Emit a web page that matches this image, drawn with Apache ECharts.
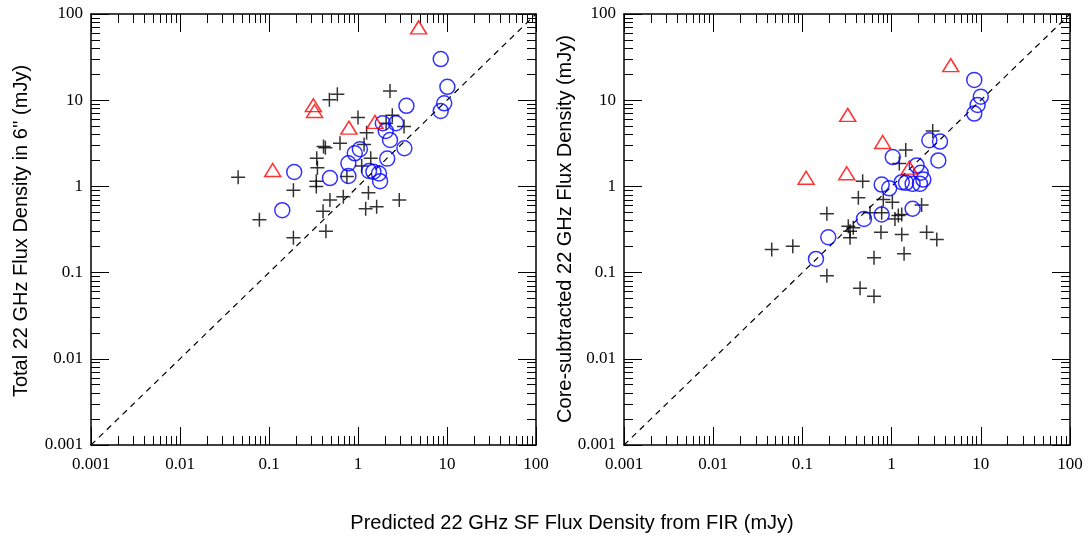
<!DOCTYPE html>
<html><head><meta charset="utf-8">
<script src="https://cdn.jsdelivr.net/npm/echarts@6/dist/echarts.min.js"></script>
<style>html,body{margin:0;padding:0;background:#fff}#c{width:1089px;height:542px}</style>
</head><body><div id="c"></div>
<script>
// Left panel: Total 22 GHz flux in 6''
const leftCircles = [[8.5,30],[10.1,14.3],[9.3,9.2],[8.5,7.5],[3.5,8.6],[1.9,5.4],[2.67,5.4],[2.05,4.4],[2.29,3.45],[3.32,2.77],[2.13,2.1],[1.05,2.7],[0.92,2.42],[0.78,1.85],[0.78,1.32],[0.484,1.25],[0.192,1.47],[0.141,0.53],[1.33,1.51],[1.49,1.48],[1.72,1.41],[1.77,1.15]];
const leftTriangles = [[4.8,70],[0.315,8.75],[0.325,7.5],[0.79,4.8],[1.55,5.6],[0.11,1.55]];
const leftCrosses = [[0.586,11.7],[0.477,10.1],[2.29,12.8],[1.0,6.3],[2.43,6.7],[3.29,4.94],[2.07,5.4],[1.25,4.2],[1.17,3.07],[0.628,3.16],[0.41,2.9],[0.43,2.8],[0.344,2.12],[0.35,1.65],[0.34,1.15],[0.34,1.0],[0.188,0.9],[0.045,1.28],[0.078,0.41],[0.188,0.253],[0.436,0.302],[0.405,0.516],[0.484,0.694],[0.684,0.76],[0.75,1.3],[1.31,0.845],[1.22,0.55],[1.62,0.58],[2.91,0.694],[1.39,2.12],[1.1,1.72]];
// Right panel: core-subtracted 22 GHz flux
const rightCircles = [[8.45,17.2],[10.0,11.0],[9.2,8.8],[8.45,7.0],[2.65,3.43],[3.49,3.31],[3.34,2.0],[1.03,2.19],[1.91,1.75],[2.12,1.44],[2.27,1.2],[2.08,1.07],[1.72,1.07],[1.45,1.1],[1.30,1.12],[0.774,1.05],[0.94,0.95],[1.72,0.55],[0.774,0.472],[0.49,0.42],[0.195,0.257],[0.142,0.144]];
const rightTriangles = [[4.6,25.5],[0.322,6.75],[0.794,3.27],[0.314,1.42],[0.11,1.26],[1.58,1.65]];
const rightCrosses = [[2.89,4.4],[1.44,2.64],[1.22,1.84],[0.474,1.15],[0.424,0.74],[0.807,0.706],[1.02,0.656],[2.17,0.607],[0.188,0.482],[0.573,0.494],[0.774,0.494],[1.09,0.42],[1.19,0.46],[1.30,0.472],[0.327,0.345],[0.372,0.331],[0.342,0.302],[0.342,0.253],[0.76,0.294],[1.30,0.277],[2.47,0.294],[3.21,0.242],[1.38,0.165],[0.635,0.149],[0.0453,0.185],[0.078,0.202],[0.188,0.092],[0.443,0.066],[0.635,0.053]];
const oneToOne = [[0.001,0.001],[100,100]];
const axisMin = 0.001, axisMax = 100;
const majorTicks = [0.001, 0.01, 0.1, 1, 10, 100];
const majorLabels = ['0.001', '0.01', '0.1', '1', '10', '100'];
const minorTicks = [
  0.002,0.003,0.004,0.005,0.006,0.007,0.008,0.009,
  0.02,0.03,0.04,0.05,0.06,0.07,0.08,0.09,
  0.2,0.3,0.4,0.5,0.6,0.7,0.8,0.9,
  2,3,4,5,6,7,8,9,
  20,30,40,50,60,70,80,90
];
const xTitle = 'Predicted 22 GHz SF Flux Density from FIR (mJy)';
const yTitles = ["Total 22 GHz Flux Density in 6'' (mJy)", 'Core-subtracted 22 GHz Flux Density (mJy)'];

const serif = 'Liberation Serif';
const sans = 'Liberation Sans';
function fmt(v){
  for (let i = 0; i < majorTicks.length; i++) if (Math.abs(Math.log10(v) - Math.log10(majorTicks[i])) < 1e-6) return majorLabels[i];
  return '';
}
function axis(gi, pos, labels, minor, isX){
  return {
    type:'log', logBase:10, gridIndex:gi, position:pos, min:axisMin, max:axisMax,
    axisLine:{show:!minor, onZero:false, lineStyle:{color:'#000', width:1.5}},
    axisTick:minor ? {show:true, inside:true, length:9, customValues:minorTicks, lineStyle:{color:'#000', width:1}}
                   : {show:true, inside:true, length:18, lineStyle:{color:'#000', width:1}},
    minorTick:{show:false},
    splitLine:{show:false}, minorSplitLine:{show:false},
    axisLabel:{show:labels, color:'#000', fontFamily:serif, fontSize:17, margin: isX ? 11 : 8, formatter:fmt}
  };
}
const crossPath = 'path://M5,0 L5,10 M0,5 L10,5';
function sc(name, data, xi, sym, size, color){
  return {type:'scatter', name, data, xAxisIndex:xi, yAxisIndex:xi, symbol:sym, symbolSize:size,
    itemStyle:{color:'rgba(0,0,0,0)', borderColor:color, borderWidth:1.5}, silent:true, z:3};
}
const grids = [{left:91, top:14, width:445, height:431},{left:624, top:14, width:446, height:431}];
const xAxes = [axis(0,'bottom',true,false,true), axis(1,'bottom',true,false,true), axis(0,'top',false,false,true), axis(1,'top',false,false,true),
  axis(0,'bottom',false,true,true), axis(1,'bottom',false,true,true), axis(0,'top',false,true,true), axis(1,'top',false,true,true)];
const yAxes = [axis(0,'left',true,false,false), axis(1,'left',true,false,false), axis(0,'right',false,false,false), axis(1,'right',false,false,false),
  axis(0,'left',false,true,false), axis(1,'left',false,true,false), axis(0,'right',false,true,false), axis(1,'right',false,true,false)];
const series = [];
[[leftCircles,leftTriangles,leftCrosses],[rightCircles,rightTriangles,rightCrosses]].forEach((d,i)=>{
  series.push({type:'line', data:oneToOne, xAxisIndex:i, yAxisIndex:i, symbol:'none', silent:true,
    lineStyle:{color:'#000', width:1.2, type:[6,5]}, z:2});
  series.push(sc('cross'+i, d[2], i, crossPath, 14, '#000'));
  series.push(sc('circle'+i, d[0], i, 'circle', 15, '#0000ff'));
  series.push(sc('tri'+i, d[1], i, 'triangle', [16,13], '#ff0000'));
});
const chart = echarts.init(document.getElementById('c'), null, {renderer:'canvas'});
chart.setOption({
  animation:false, backgroundColor:'#fff',
  grid:grids, xAxis:xAxes, yAxis:yAxes, series,
  graphic:[
    {type:'text', x:572, y:523, style:{text:xTitle, font:'20px '+sans, fill:'#000', align:'center', verticalAlign:'middle'}},
    {type:'text', x:21, y:231, rotation:Math.PI/2, style:{text:yTitles[0], font:'20px '+sans, fill:'#000', align:'center', verticalAlign:'middle'}},
    {type:'text', x:565, y:229, rotation:Math.PI/2, style:{text:yTitles[1], font:'20px '+sans, fill:'#000', align:'center', verticalAlign:'middle'}}
  ]
});
</script></body></html>
